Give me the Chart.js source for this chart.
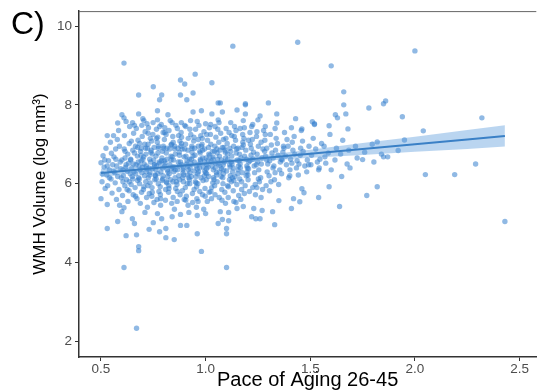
<!DOCTYPE html>
<html><head><meta charset="utf-8">
<script src="https://cdn.jsdelivr.net/npm/chart.js@4"></script>
<style>html,body{margin:0;padding:0;background:#fff}</style>
</head><body>
<canvas id="c" width="539" height="391" style="width:539px;height:391px;display:block"></canvas>
<script>
// ---- data ----
const xTicks = [0.5, 1.0, 1.5, 2.0, 2.5];
const xTickLabels = ['0.5', '1.0', '1.5', '2.0', '2.5'];
const yTicks = [2, 4, 6, 8, 10];
const yTickLabels = ['2', '4', '6', '8', '10'];

// dense core of the cloud: [pace, wmh]
const denseCore = [
 [0.505,6.05],[0.515,6.42],[0.51,6.71],[0.52,5.88],
 [0.528,6.22],[0.536,6.58],[0.532,5.95],[0.524,6.9],[0.54,6.35],
 [0.548,6.12],[0.556,6.48],[0.545,7.05],[0.553,5.76],[0.561,6.31],[0.55,6.77],
 [0.566,6.28],[0.574,5.6],[0.571,6.62],[0.578,7.12],[0.568,6.02],[0.575,6.45],
 [0.586,5.85],[0.595,6.38],[0.588,6.95],[0.597,6.15],[0.584,7.35],[0.592,6.55],[0.589,5.45],
 [0.607,6.2],[0.615,6.65],[0.603,5.7],[0.612,7.22],[0.618,6.42],[0.605,6.05],[0.611,6.88],[0.614,5.95],
 [0.626,6.32],[0.634,5.82],[0.628,6.75],[0.637,7.45],[0.622,6.1],[0.632,6.52],[0.629,5.55],[0.635,7.02],
 [0.647,6.4],[0.652,6.85],[0.644,5.98],[0.656,7.28],[0.649,6.18],[0.654,5.72],[0.642,6.6],[0.651,7.55],[0.658,6.3],
 [0.666,6.25],[0.674,6.7],[0.663,5.9],[0.677,7.1],[0.668,6.48],[0.672,5.62],[0.665,6.95],[0.675,6.08],[0.669,7.4],[0.678,6.55],
 [0.686,6.35],[0.694,5.78],[0.689,6.82],[0.697,7.2],[0.683,6.12],[0.692,6.58],[0.688,5.5],[0.695,7.48],[0.684,6.0],[0.691,6.72],[0.698,6.42],
 [0.706,6.5],[0.714,6.05],[0.709,7.0],[0.703,5.85],[0.716,6.3],[0.711,7.32],[0.704,6.68],[0.718,5.65],[0.708,6.2],[0.713,6.9],[0.705,7.6],[0.717,6.45],
 [0.726,6.15],[0.733,6.62],[0.724,5.95],[0.736,7.15],[0.729,6.4],[0.722,5.4],[0.738,6.8],[0.727,7.42],[0.734,6.28],[0.731,5.75],[0.725,7.0],[0.737,6.55],
 [0.746,6.38],[0.754,6.92],[0.743,5.68],[0.757,6.1],[0.748,7.25],[0.752,6.6],[0.744,5.9],[0.756,6.48],[0.749,7.55],[0.758,6.22],[0.745,6.75],[0.753,5.52],[0.742,7.08],
 [0.766,6.45],[0.774,6.0],[0.769,7.05],[0.763,6.7],[0.777,5.8],[0.772,6.25],[0.765,7.38],[0.778,6.55],[0.768,5.6],[0.775,6.9],[0.764,6.12],[0.771,7.18],
 [0.786,6.3],[0.794,6.82],[0.783,5.92],[0.797,7.3],[0.789,6.58],[0.792,6.08],[0.785,5.45],[0.798,6.95],[0.788,7.5],[0.795,6.4],[0.784,5.72],[0.791,6.65],[0.796,6.2],
 [0.806,6.52],[0.814,6.02],[0.803,7.12],[0.817,6.35],[0.809,5.85],[0.812,6.78],[0.805,7.42],[0.818,6.18],[0.808,5.58],[0.815,6.9],[0.804,6.45],[0.811,7.25],
 [0.826,6.25],[0.834,6.7],[0.823,5.78],[0.837,7.0],[0.829,6.48],[0.832,6.1],[0.825,7.35],[0.838,5.5],[0.828,6.88],[0.835,6.6],[0.824,5.95],[0.831,7.6],[0.836,6.38],
 [0.846,6.6],[0.854,6.15],[0.843,7.2],[0.857,5.88],[0.849,6.42],[0.852,6.95],[0.845,5.65],[0.858,7.48],[0.848,6.3],[0.855,6.75],[0.844,6.05],[0.851,5.35],
 [0.866,6.35],[0.874,6.8],[0.863,5.98],[0.877,7.08],[0.869,6.55],[0.872,6.2],[0.865,7.4],[0.878,5.72],[0.868,6.9],[0.875,6.45],[0.864,5.55],[0.871,7.22],[0.876,6.1],
 [0.886,6.48],[0.894,6.05],[0.883,7.3],[0.897,6.68],[0.889,5.82],[0.892,6.28],[0.885,7.02],[0.898,5.6],[0.888,6.88],[0.895,6.4],[0.884,7.55],[0.891,6.15],
 [0.906,6.7],[0.914,6.22],[0.903,5.9],[0.917,7.15],[0.909,6.5],[0.912,6.0],[0.905,7.45],[0.918,6.35],[0.908,5.68],[0.915,6.85],[0.904,7.0],[0.911,6.58],[0.916,5.45],
 [0.926,6.4],[0.934,6.95],[0.923,6.1],[0.937,5.75],[0.929,7.25],[0.932,6.62],[0.925,6.28],[0.938,5.52],[0.928,7.6],[0.935,6.8],[0.924,6.0],[0.931,6.5],
 [0.946,6.55],[0.954,6.18],[0.943,7.08],[0.957,5.92],[0.949,6.72],[0.952,7.38],[0.945,6.32],[0.958,5.62],[0.948,6.9],[0.955,6.45],[0.944,7.18],[0.951,6.05],[0.956,5.4],
 [0.966,6.3],[0.974,6.78],[0.963,6.0],[0.977,7.22],[0.969,6.5],[0.972,5.8],[0.965,6.95],[0.978,6.15],[0.968,7.48],[0.975,6.62],[0.964,5.55],[0.971,6.4],
 [0.986,6.65],[0.994,6.2],[0.983,7.0],[0.997,5.88],[0.989,6.42],[0.992,7.32],[0.985,6.85],[0.998,5.68],[0.988,6.08],[0.995,6.55],[0.984,7.15],[0.991,5.35],[0.996,6.32],
 [1.006,6.48],[1.014,6.92],[1.003,6.1],[1.017,5.78],[1.009,7.1],[1.012,6.6],[1.005,6.25],[1.018,7.42],[1.008,5.55],[1.015,6.75],[1.004,6.38],
 [1.026,6.58],[1.034,6.02],[1.023,7.25],[1.037,6.35],[1.029,5.9],[1.032,6.82],[1.025,7.0],[1.038,6.15],[1.028,5.62],[1.035,6.68],[1.024,7.5],[1.031,6.45],
 [1.046,6.4],[1.054,6.88],[1.043,5.95],[1.057,6.62],[1.049,7.18],[1.052,6.22],[1.045,5.72],[1.058,7.38],[1.048,6.52],[1.055,6.05],[1.044,6.95],
 [1.066,6.7],[1.074,6.18],[1.063,7.05],[1.077,5.85],[1.069,6.45],[1.072,7.28],[1.065,6.3],[1.078,5.58],[1.068,6.85],[1.075,6.6],[1.064,7.55],
 [1.086,6.35],[1.094,6.8],[1.083,6.0],[1.097,7.15],[1.089,6.55],[1.092,5.78],[1.085,6.25],[1.098,7.4],[1.088,6.92],[1.095,5.5],[1.084,6.48],
 [1.106,6.62],[1.114,6.1],[1.103,7.02],[1.117,6.42],[1.109,5.92],[1.112,7.3],[1.105,6.75],[1.118,6.2],[1.108,5.65],[1.115,6.9],
 [1.126,6.5],[1.134,6.95],[1.123,6.05],[1.137,7.2],[1.129,6.3],[1.132,5.82],[1.125,6.7],[1.138,7.45],[1.128,6.15],[1.135,5.55],
 [1.146,6.78],[1.154,6.25],[1.143,7.1],[1.157,6.45],[1.149,5.98],[1.152,6.6],[1.145,7.35],[1.158,5.7],[1.148,6.88],[1.155,6.35],
 [1.166,6.4],[1.174,6.92],[1.163,6.12],[1.177,7.25],[1.169,6.65],[1.172,5.85],[1.165,6.5],[1.178,7.05],[1.168,5.6],
 [1.186,6.7],[1.194,6.2],[1.183,7.15],[1.197,6.45],[1.189,5.95],[1.192,6.85],[1.185,7.42],[1.198,6.3],
 [1.206,6.55],[1.214,7.0],[1.203,6.1],[1.217,6.72],[1.209,5.8],[1.212,7.3],[1.205,6.38],[1.218,6.9],
 [1.226,6.62],[1.234,6.28],[1.223,7.12],[1.237,5.98],[1.229,6.8],[1.232,6.45],[1.225,7.5],[1.238,5.72],
 [1.246,6.75],[1.254,6.35],[1.243,7.2],[1.257,6.05],[1.249,6.55],[1.252,6.95],[1.245,5.9],
 [1.266,6.5],[1.274,6.88],[1.263,6.15],[1.277,7.35],[1.269,6.65],[1.272,5.85],[1.265,7.05],
 [1.286,6.7],[1.294,6.3],[1.283,7.1],[1.297,6.5],[1.289,5.95],[1.292,6.9],[1.285,7.45],
 [1.306,6.58],[1.314,6.98],[1.303,6.2],[1.317,6.78],[1.309,7.25],[1.312,6.05],
 [1.326,6.45],[1.334,6.85],[1.323,6.65],[1.337,7.15],[1.329,6.1],[1.332,7.4],
 [1.346,6.72],[1.354,6.35],[1.343,7.02],[1.357,6.55],[1.349,5.98],
 [1.366,6.6],[1.374,6.9],[1.363,6.25],[1.377,7.3],[1.369,6.8],
 [1.386,6.48],[1.394,6.95],[1.383,6.7],[1.397,6.15],[1.389,7.12],
 [1.406,6.62],[1.414,7.05],[1.403,6.35],[1.417,6.85],
 [1.426,6.75],[1.434,6.4],[1.423,7.2],[1.437,6.58],
 [1.446,6.5],[1.454,6.9],[1.443,6.22],[1.457,7.35],
 [1.466,6.82],[1.474,6.45],[1.463,7.08],
 [1.486,6.6],[1.494,6.95],[1.483,6.3],
 [1.506,6.72],[1.514,7.15],[1.503,6.48],
 [1.526,6.88],[1.534,6.55],
 [1.546,6.62],[1.554,7.02],[1.543,6.4],
 [1.566,6.95],[1.574,6.52],
 [1.586,6.78],[1.594,7.25],
 [1.618,6.6],[1.625,6.9],[1.645,6.75],[1.655,7.1],[1.676,6.5],[1.684,6.85],
 [1.716,6.95],[1.724,6.65],[1.76,6.8],[1.796,7.0],[1.804,6.55],[1.84,6.75]
];

// extra points filling the darkest part of the cloud
const coreFill = [
 [0.62,6.48],[0.64,6.25],[0.66,6.78],[0.68,6.15],[0.70,6.62],[0.72,6.38],[0.74,6.85],[0.76,6.2],[0.78,6.52],[0.80,6.9],
 [0.82,6.3],[0.84,6.68],[0.86,6.05],[0.88,6.55],[0.90,6.88],[0.92,6.15],[0.94,6.7],[0.96,6.38],[0.98,6.95],[1.00,6.28],
 [1.02,6.72],[1.04,6.1],[1.06,6.5],[1.08,6.92],[1.10,6.32],[1.12,6.82],[1.14,6.18],[1.16,6.58],[1.18,6.98],[1.20,6.4],
 [0.615,6.82],[0.635,6.05],[0.655,6.5],[0.675,6.92],[0.695,6.28],[0.715,6.75],[0.735,6.02],[0.755,6.48],[0.775,6.95],[0.795,6.12],
 [0.815,6.62],[0.835,6.98],[0.855,6.35],[0.875,6.72],[0.895,6.22],[0.915,6.45],[0.935,6.9],[0.955,6.02],[0.975,6.58],[0.995,6.88],
 [1.015,6.18],[1.035,6.62],[1.055,6.78],[1.075,6.38],[1.095,6.65],[1.115,6.48],[1.135,6.08],[1.155,6.9],[1.175,6.28],[1.195,6.62],
 [0.605,6.35],[0.645,7.08],[0.685,7.02],[0.725,7.28],[0.765,7.15],[0.805,7.3],[0.845,7.05],[0.885,7.18],[0.925,7.38],[0.965,7.12],
 [1.005,7.25],[1.045,7.45],[1.085,7.12],[1.125,7.22],[1.165,7.4],[1.205,7.1],[1.245,7.32],[1.285,7.25],
 [0.625,5.85],[0.665,5.68],[0.705,5.92],[0.745,5.78],[0.785,5.62],[0.825,5.88],[0.865,5.8],[0.905,5.58],[0.945,5.85],[0.985,5.72],
 [1.025,5.8],[1.065,5.65],[1.105,5.95],[1.145,5.52],[1.185,5.75],[1.225,5.9],[1.265,5.65],[1.305,5.82],
 [0.642,6.62],[0.682,6.45],[0.722,6.9],[0.762,6.35],[0.802,6.58],[0.842,6.42],[0.882,6.95],[0.922,6.62],[0.962,6.25],[1.002,6.65],
 [1.042,6.82],[1.082,6.15],[1.122,6.55],[1.162,6.75],[1.202,6.22],[1.242,6.48],[1.282,6.82],[1.322,6.4],[1.362,6.62],[1.402,6.2],
 [0.57,6.88],[0.58,6.18],[0.6,6.6],[0.518,6.6],[0.54,6.15],[0.53,6.45],[0.506,6.25],[0.562,6.68],
 [0.652,6.12],[0.692,6.9],[0.732,6.22],[0.772,6.78],[0.812,6.05],[0.852,6.88],[0.892,6.35],[0.932,6.18],[0.972,6.82],[1.012,6.42],
 [1.052,6.28],[1.092,6.85],[1.132,6.4],[1.172,6.05],[1.212,6.58],[1.252,6.12],[1.292,6.6],[1.332,6.28],[1.372,6.95],[1.412,6.52],
 [1.452,6.72],[1.492,6.48],
 [0.62,7.58],[0.66,7.48],[0.72,7.52],[0.78,7.45],[0.84,7.55],[0.9,7.48],[0.96,7.58],[1.0,7.52],[1.06,7.62],[1.12,7.55],
 [1.18,7.6],[1.22,7.45]
];

const upperScatter = [
 [0.61,9.06],[1.13,9.49],[1.44,9.59],[2.0,9.37],[1.6,8.99],[1.66,8.33],[1.86,8.1],[1.85,8.03],
 [1.78,7.92],[1.66,8.0],[1.67,7.77],[1.68,7.39],[1.62,7.75],[1.63,7.67],[1.59,7.47],[1.30,8.05],
 [1.19,8.0],[1.34,7.77],[1.43,7.65],[1.51,7.57],[1.52,7.5],[1.82,7.06],
 [0.95,8.78],[0.88,8.63],[0.9,8.53],[1.03,8.56],[0.75,8.46],[0.68,8.25],[0.79,8.25],[0.88,8.25],
 [0.94,8.3],[0.78,8.13],[0.91,8.13],[1.06,8.05],[1.07,8.05],[1.19,8.03],[0.6,7.75],[0.68,7.77],
 [0.77,7.85],[0.82,7.75],[0.94,7.82],[0.98,7.85],[1.03,7.77],[1.08,7.82],[1.15,7.87],[0.58,7.54],
 [0.61,7.67],[0.7,7.65],[0.77,7.62],[0.53,7.22],[0.56,7.22],[0.5,6.53],
 [1.25,7.62],[1.26,7.72],[1.19,7.77],[1.34,7.54],[1.41,7.42],[1.46,7.39],[1.52,7.52]
];

const lowerScatter = [
 [0.67,2.33],[0.61,3.87],[1.1,3.87],[0.68,4.3],[0.98,4.28],[0.68,4.4],[0.53,4.86],[0.62,4.68],
 [0.67,4.7],[0.73,4.84],[0.78,4.78],[0.81,4.63],[0.85,4.58],[0.81,4.86],[0.88,4.94],[0.91,4.94],
 [0.96,4.73],[0.58,5.04],[0.65,5.11],[0.66,4.99],[0.75,5.01],[0.6,5.29],[0.5,5.62],[0.53,5.47],
 [0.61,5.39],[1.1,4.86],[1.1,4.73],[1.06,4.99],[1.08,5.09],[1.11,5.06],[1.15,5.37],[1.18,5.42],
 [1.11,5.27],[1.07,5.29],[1.0,5.24],[0.96,5.19],[0.92,5.27],[0.88,5.22],[0.84,5.16],[0.79,5.11],
 [0.77,5.24],[0.71,5.27],[1.33,4.96],[1.24,5.11],[1.26,5.11],[1.22,5.16],[1.23,5.37],[1.27,5.32],
 [1.32,5.29],[1.41,5.37],[1.45,5.54],[1.42,5.62],[1.35,5.57],[1.46,5.87],[1.47,5.77],[1.54,5.65],
 [1.59,5.92],[1.64,5.42],[1.77,5.7],[1.82,5.92]
];

const rightTail = [
 [1.65,6.18],[1.69,6.4],[1.75,6.61],[1.87,6.68],[1.54,6.35],[1.6,6.35],[1.57,6.68],[1.94,7.70],
 [2.32,7.67],[2.04,7.34],[1.95,7.11],[1.92,6.84],[1.85,6.68],[2.29,6.5],[2.05,6.23],[2.19,6.23],[2.43,5.04]
];

// linear fit with confidence band
const fitX    = [0.5, 0.75, 1.0, 1.25, 1.5, 1.75, 2.0, 2.25, 2.43];
const fitY    = [6.27, 6.39, 6.51, 6.64, 6.76, 6.88, 7.00, 7.12, 7.21];
const fitLow  = [6.16, 6.33, 6.46, 6.57, 6.66, 6.73, 6.81, 6.88, 6.94];
const fitHigh = [6.38, 6.45, 6.56, 6.71, 6.86, 7.03, 7.19, 7.36, 7.48];

// ---- build chart ----
const pts = [];
[denseCore, coreFill, upperScatter, lowerScatter, rightTail].forEach(g => g.forEach(([x, y]) => pts.push({x, y})));
const toXY = arr => fitX.map((x, i) => ({x, y: arr[i]}));

const FONT = '"Liberation Sans", Arial, Helvetica, sans-serif';
const AX = '#333333';

const extras = {
  id: 'extras',
  afterDraw(chart) {
    const {ctx, chartArea: a} = chart;
    ctx.save();
    ctx.strokeStyle = '#666';
    ctx.lineWidth = 1;
    ctx.beginPath();
    ctx.moveTo(a.left, a.top + 0.5);
    ctx.lineTo(a.right, a.top + 0.5);
    ctx.stroke();
    ctx.fillStyle = '#000';
    ctx.font = '32px ' + FONT;
    ctx.textBaseline = 'alphabetic';
    ctx.fillText('C)', 11, 34);
    ctx.restore();
  }
};

new Chart(document.getElementById('c'), {
  type: 'scatter',
  data: {
    datasets: [
      {label: 'low', type: 'line', data: toXY(fitLow), borderWidth: 0, pointRadius: 0, fill: false, order: 2, tension: 0},
      {label: 'high', type: 'line', data: toXY(fitHigh), borderWidth: 0, pointRadius: 0, fill: '-1',
       backgroundColor: 'rgba(90,155,220,0.42)', order: 2, tension: 0},
      {label: 'fit', type: 'line', data: toXY(fitY), borderColor: 'rgb(58,128,198)', borderWidth: 2,
       pointRadius: 0, fill: false, order: 1, tension: 0},
      {label: 'pts', data: pts, pointRadius: 2.7, pointHoverRadius: 2.7, borderWidth: 0,
       backgroundColor: 'rgba(52,128,205,0.55)', order: 3}
    ]
  },
  options: {
    responsive: false,
    animation: false,
    devicePixelRatio: 1,
    layout: {padding: {top: 10, right: 0, left: 0, bottom: 0}},
    plugins: {legend: {display: false}, tooltip: {enabled: false}},
    scales: {
      x: {
        type: 'linear', min: 0.395, max: 2.58,
        afterBuildTicks: s => { s.ticks = xTicks.map(v => ({value: v})); },
        afterFit: s => { s.height = 34; },
        ticks: {callback: (v) => xTickLabels[xTicks.indexOf(v)] ?? '', color: '#4d4d4d',
                font: {family: FONT, size: 13.5}, padding: 0, maxRotation: 0, autoSkip: false},
        grid: {display: true, drawOnChartArea: false, drawTicks: true, tickLength: 4, color: AX, lineWidth: 1},
        border: {display: true, color: AX, width: 1.5},
        title: {display: true, text: 'Pace of Aging 26-45', color: '#000',
                font: {family: FONT, size: 20}, padding: {top: 0, bottom: -1}}
      },
      y: {
        type: 'linear', min: 1.6, max: 10.38,
        afterBuildTicks: s => { s.ticks = yTicks.map(v => ({value: v})); },
        afterFit: s => { s.width = 79; },
        ticks: {callback: (v) => yTickLabels[yTicks.indexOf(v)] ?? '', color: '#4d4d4d',
                font: {family: FONT, size: 13.5}, padding: 3, autoSkip: false},
        grid: {display: true, drawOnChartArea: false, drawTicks: true, tickLength: 4, color: AX, lineWidth: 1},
        border: {display: true, color: AX, width: 1.5},
        title: {display: true, text: 'WMH Volume (log mm³)', color: '#000',
                font: {family: FONT, size: 17}, padding: {top: 30, bottom: 0}}
      }
    }
  },
  plugins: [extras]
});
</script>
</body></html>
